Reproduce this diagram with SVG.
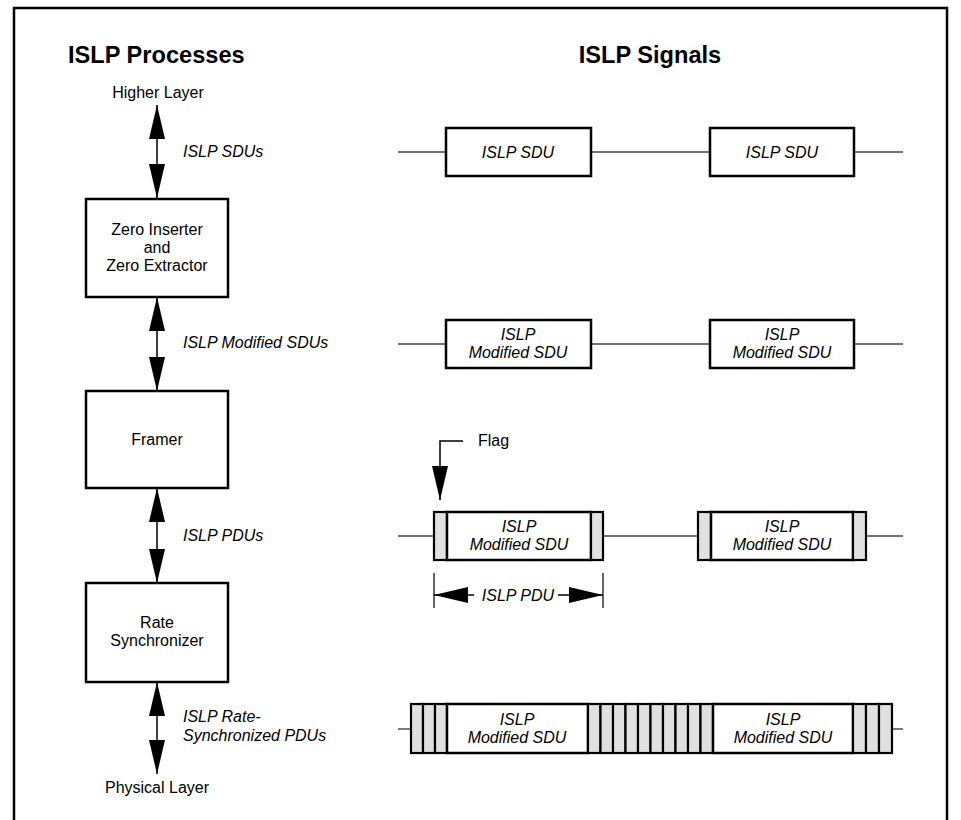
<svg xmlns="http://www.w3.org/2000/svg" width="961" height="820" viewBox="0 0 961 820">
  <style>
    text { font-family: "Liberation Sans", Arial, sans-serif; fill: #000; }
    .title { font-size: 23.6px; font-weight: bold; }
    .lbl { font-size: 16px; }
    .it { font-size: 16px; font-style: italic; }
    .mid { text-anchor: middle; }
    .box { fill: #fff; stroke: #000; stroke-width: 2.5; }
    .cell { fill: #e0e0e0; stroke: #000; stroke-width: 2.2; }
    .sig { stroke: #444; stroke-width: 1.4; fill: none; }
    .shaft { stroke: #000; stroke-width: 1.5; fill: none; }
    .tick { stroke: #000; stroke-width: 1.2; fill: none; }
  </style>
  <defs>
    <marker id="head" viewBox="0 0 34 16" refX="34" refY="8" markerWidth="34" markerHeight="16" markerUnits="userSpaceOnUse" orient="auto-start-reverse">
      <path d="M0,0 L34,8 L0,16 Z" fill="#000"/>
    </marker>
  </defs>

  <rect x="14" y="8" width="933" height="840" fill="none" stroke="#000" stroke-width="2.5"/>

  <text class="title" x="68" y="63">ISLP Processes</text>
  <text class="title mid" x="650" y="63">ISLP Signals</text>

  <!-- layer labels -->
  <text class="lbl mid" x="158" y="98">Higher Layer</text>
  <text class="lbl mid" x="157" y="793">Physical Layer</text>

  <!-- connectors between process blocks -->
  <g id="connectors">
    <line class="shaft" x1="157" y1="105" x2="157" y2="198" marker-start="url(#head)" marker-end="url(#head)"/>
    <line class="shaft" x1="157" y1="297" x2="157" y2="391" marker-start="url(#head)" marker-end="url(#head)"/>
    <line class="shaft" x1="157" y1="488" x2="157" y2="583" marker-start="url(#head)" marker-end="url(#head)"/>
    <line class="shaft" x1="157" y1="682" x2="157" y2="774" marker-start="url(#head)" marker-end="url(#head)"/>
    <text class="it" x="183" y="157">ISLP SDUs</text>
    <text class="it" x="183" y="348">ISLP Modified SDUs</text>
    <text class="it" x="183" y="541">ISLP PDUs</text>
    <text class="it" x="183" y="722">ISLP Rate-</text>
    <text class="it" x="183" y="741">Synchronized PDUs</text>
  </g>

  <!-- process blocks -->
  <g id="zero-inserter">
    <rect class="box" x="86" y="199" width="142" height="98"/>
    <text class="lbl mid" x="157" y="235">Zero Inserter</text>
    <text class="lbl mid" x="157" y="253">and</text>
    <text class="lbl mid" x="157" y="271">Zero Extractor</text>
  </g>
  <g id="framer">
    <rect class="box" x="86" y="391" width="142" height="97"/>
    <text class="lbl mid" x="157" y="445">Framer</text>
  </g>
  <g id="rate-synchronizer">
    <rect class="box" x="86" y="583" width="142" height="99"/>
    <text class="lbl mid" x="157" y="628">Rate</text>
    <text class="lbl mid" x="157" y="646">Synchronizer</text>
  </g>

  <!-- signal row: SDUs -->
  <g id="row-sdu">
    <line class="sig" x1="398" y1="152" x2="903" y2="152"/>
    <rect class="box" x="446" y="128" width="145" height="48"/>
    <rect class="box" x="710" y="128" width="144" height="48"/>
    <text class="it mid" x="518" y="158">ISLP SDU</text>
    <text class="it mid" x="782" y="158">ISLP SDU</text>
  </g>

  <!-- signal row: modified SDUs -->
  <g id="row-modified">
    <line class="sig" x1="398" y1="344" x2="903" y2="344"/>
    <rect class="box" x="446" y="320" width="145" height="48"/>
    <rect class="box" x="710" y="320" width="144" height="48"/>
    <text class="it mid" x="518" y="340">ISLP</text>
    <text class="it mid" x="518" y="358">Modified SDU</text>
    <text class="it mid" x="782" y="340">ISLP</text>
    <text class="it mid" x="782" y="358">Modified SDU</text>
  </g>

  <!-- signal row: PDUs with flags -->
  <g id="row-pdu">
    <line class="sig" x1="398" y1="536" x2="903" y2="536"/>
    <rect class="cell" x="434" y="512" width="13" height="48"/>
    <rect class="box" x="447" y="512" width="144" height="48"/>
    <rect class="cell" x="591" y="512" width="12" height="48"/>
    <rect class="cell" x="698" y="512" width="13" height="48"/>
    <rect class="box" x="711" y="512" width="142" height="48"/>
    <rect class="cell" x="853" y="512" width="13" height="48"/>
    <text class="it mid" x="519" y="532">ISLP</text>
    <text class="it mid" x="519" y="550">Modified SDU</text>
    <text class="it mid" x="782" y="532">ISLP</text>
    <text class="it mid" x="782" y="550">Modified SDU</text>
  </g>

  <!-- flag callout -->
  <g id="flag">
    <path class="shaft" d="M463,441 H440 V500" marker-end="url(#head)"/>
    <text class="lbl" x="478" y="446">Flag</text>
  </g>

  <!-- PDU length dimension -->
  <g id="pdu-dimension">
    <line class="tick" x1="434" y1="573" x2="434" y2="608"/>
    <line class="tick" x1="603" y1="573" x2="603" y2="608"/>
    <path class="shaft" d="M474,595 H434" marker-end="url(#head)"/>
    <path class="shaft" d="M558,595 H603" marker-end="url(#head)"/>
    <text class="it mid" x="518" y="601">ISLP PDU</text>
  </g>

  <!-- signal row: rate-synchronized PDUs -->
  <g id="row-rate">
    <line class="sig" x1="398" y1="729" x2="411" y2="729"/>
    <line class="sig" x1="892" y1="729" x2="903" y2="729"/>
    <rect class="cell" x="411" y="704" width="12" height="49"/>
    <rect class="cell" x="423" y="704" width="12" height="49"/>
    <rect class="cell" x="435" y="704" width="12" height="49"/>
    <rect class="box" x="447" y="704" width="141" height="49"/>
    <rect class="cell" x="588" y="704" width="12.5" height="49"/>
    <rect class="cell" x="600.5" y="704" width="12.5" height="49"/>
    <rect class="cell" x="613" y="704" width="12.5" height="49"/>
    <rect class="cell" x="625.5" y="704" width="12.5" height="49"/>
    <rect class="cell" x="638" y="704" width="12.5" height="49"/>
    <rect class="cell" x="650.5" y="704" width="12.5" height="49"/>
    <rect class="cell" x="663" y="704" width="12.5" height="49"/>
    <rect class="cell" x="675.5" y="704" width="12.5" height="49"/>
    <rect class="cell" x="688" y="704" width="12.5" height="49"/>
    <rect class="cell" x="700.5" y="704" width="12.5" height="49"/>
    <rect class="box" x="713" y="704" width="140" height="49"/>
    <rect class="cell" x="853" y="704" width="13" height="49"/>
    <rect class="cell" x="866" y="704" width="13" height="49"/>
    <rect class="cell" x="879" y="704" width="13" height="49"/>
    <text class="it mid" x="517" y="725">ISLP</text>
    <text class="it mid" x="517" y="743">Modified SDU</text>
    <text class="it mid" x="783" y="725">ISLP</text>
    <text class="it mid" x="783" y="743">Modified SDU</text>
  </g>
</svg>
